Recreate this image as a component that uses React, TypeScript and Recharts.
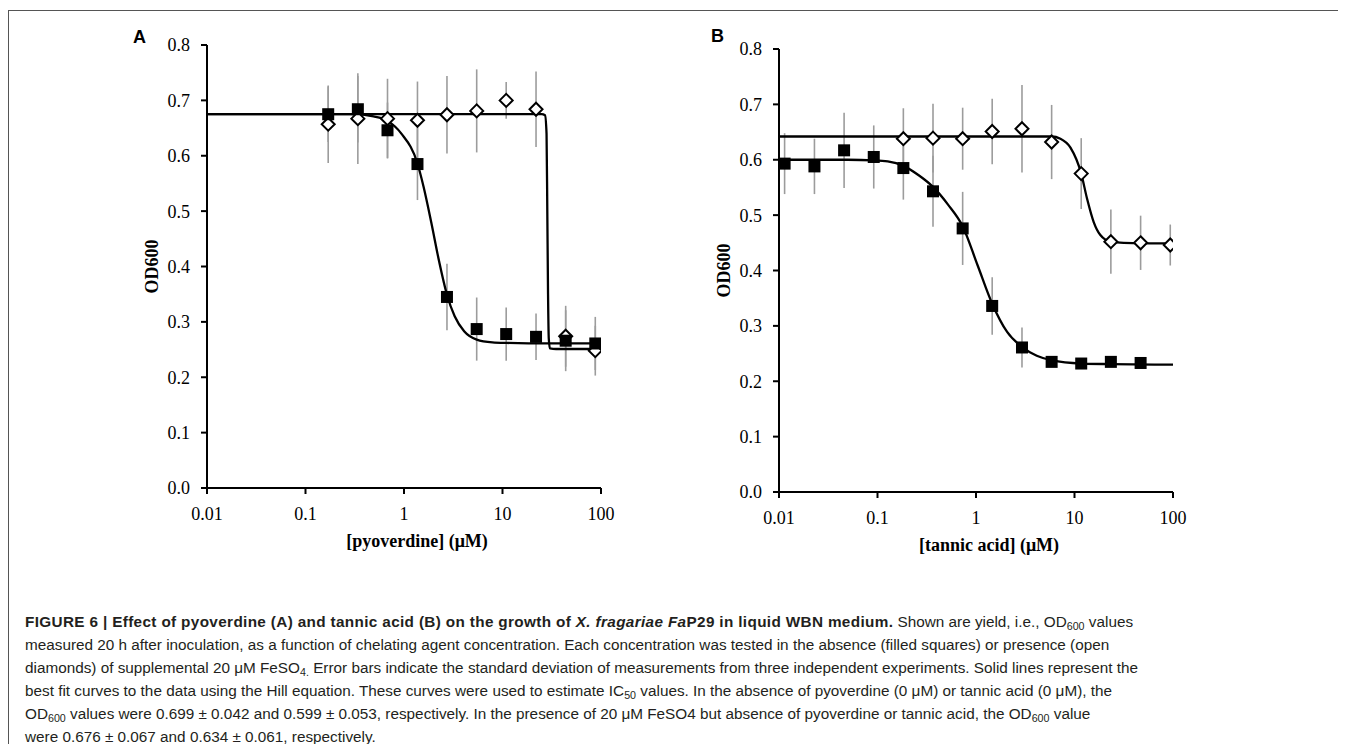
import React from "react";
import { ComposedChart, Scatter, Line, XAxis, YAxis, ErrorBar, Label } from "recharts";

// ---- Panel A: pyoverdine ----
const pyoConc = [0.17, 0.34, 0.68, 1.37, 2.73, 5.47, 10.9, 21.9, 43.8, 87.5];
const pyoNoFe = [0.675, 0.684, 0.646, 0.585, 0.345, 0.287, 0.278, 0.273, 0.266, 0.261];
const pyoNoFeSd = [0.05, 0.06, 0.05, 0.065, 0.06, 0.057, 0.048, 0.042, 0.055, 0.048];
const pyoFe = [0.657, 0.667, 0.667, 0.664, 0.674, 0.681, 0.7, 0.684, 0.274, 0.248];
const pyoFeSd = [0.07, 0.082, 0.072, 0.07, 0.07, 0.075, 0.033, 0.068, 0.055, 0.045];

// fitted curves
const pyoNoFeFitX = [0.01, 0.1, 0.3, 0.49, 0.68, 0.94, 1.37, 1.58, 1.89, 2.28, 2.73, 3.27, 4.08, 5.47, 7.9, 10.9, 30, 100];
const pyoNoFeFitY = [0.675, 0.675, 0.675, 0.671, 0.663, 0.64, 0.586, 0.544, 0.48, 0.408, 0.349, 0.31, 0.283, 0.268, 0.263, 0.262, 0.261, 0.261];
const pyoFeFitX = [0.01, 1, 10, 25, 27, 28, 28.5, 29, 29.5, 30.3, 35, 100];
const pyoFeFitY = [0.675, 0.675, 0.675, 0.675, 0.673, 0.64, 0.5, 0.35, 0.27, 0.252, 0.251, 0.251];

// ---- Panel B: tannic acid ----
const tanNoFeConc = [0.0114, 0.0229, 0.0458, 0.0916, 0.183, 0.366, 0.732, 1.46, 2.93, 5.86, 11.7, 23.4, 46.9];
const tanNoFe = [0.593, 0.588, 0.617, 0.605, 0.585, 0.543, 0.476, 0.336, 0.261, 0.235, 0.232, 0.235, 0.233];
const tanNoFeSd = [0.055, 0.05, 0.068, 0.057, 0.057, 0.064, 0.066, 0.052, 0.036, 0.008, 0.006, 0.006, 0.006];
const tanFeConc = [0.183, 0.366, 0.732, 1.46, 2.93, 5.86, 11.7, 23.4, 46.9, 93.8];
const tanFe = [0.638, 0.639, 0.638, 0.651, 0.656, 0.632, 0.575, 0.452, 0.45, 0.446];
const tanFeSd = [0.055, 0.062, 0.056, 0.059, 0.079, 0.067, 0.064, 0.058, 0.049, 0.037];

const tanNoFeFitX = [0.01, 0.05, 0.0916, 0.127, 0.183, 0.262, 0.366, 0.52, 0.732, 1.04, 1.46, 2.07, 2.93, 4.14, 5.86, 11.7, 23.4, 100];
const tanNoFeFitY = [0.6, 0.6, 0.599, 0.597, 0.589, 0.572, 0.551, 0.519, 0.48, 0.409, 0.34, 0.289, 0.262, 0.246, 0.238, 0.232, 0.231, 0.23];
const tanFeFitX = [0.01, 1, 5.86, 7.2, 9.1, 11.7, 13.4, 15.7, 18.3, 23.4, 31.5, 100];
const tanFeFitY = [0.642, 0.642, 0.642, 0.638, 0.622, 0.575, 0.53, 0.487, 0.464, 0.452, 0.45, 0.449];

const LOG_TICKS = [0.01, 0.1, 1, 10, 100];
const OD_TICKS = [0, 0.1, 0.2, 0.3, 0.4, 0.5, 0.6, 0.7, 0.8];

type Row = { x: number; y: number; sd: number };
const rows = (xs: number[], ys: number[], sds?: number[]): Row[] =>
  xs.map((x, i) => ({ x, y: ys[i], sd: sds ? sds[i] : 0 }));

const serif = "'Liberation Serif', 'Times New Roman', serif";
const sans = "'Liberation Sans', Arial, sans-serif";
const tickStyle = { fill: "#000", fontSize: 18, fontFamily: serif };
const titleStyle = { fill: "#000", fontSize: 18, fontFamily: serif, fontWeight: 700 };
const axisStroke = { stroke: "#000", strokeWidth: 2 };

const Square = (p: any) => <rect x={p.cx - 6} y={p.cy - 6} width={12} height={12} fill="#000" />;
const Diamond = (p: any) => (
  <path
    d={`M${p.cx},${p.cy - 6.5}L${p.cx + 6.5},${p.cy}L${p.cx},${p.cy + 6.5}L${p.cx - 6.5},${p.cy}Z`}
    fill="#fff"
    stroke="#000"
    strokeWidth={2}
  />
);
const Nothing = () => <g />;

interface PanelProps {
  xTitle: string;
  noFe: Row[];
  fe: Row[];
  noFeFit: Row[];
  feFit: Row[];
  left: number;
  top: number;
}

function Panel({ xTitle, noFe, fe, noFeFit, feFit, left, top }: PanelProps) {
  return (
    <div style={{ position: "absolute", left, top }}>
      <ComposedChart width={520} height={560} margin={{ top: 27, right: 27, left: 0, bottom: 0 }}>
        <XAxis
          type="number"
          dataKey="x"
          scale="log"
          domain={[0.01, 100]}
          ticks={LOG_TICKS}
          allowDataOverflow
          interval={0}
          height={90}
          tickSize={6}
          tickMargin={13}
          axisLine={axisStroke}
          tickLine={axisStroke}
          tick={tickStyle}
          tickFormatter={(v: number) => String(v)}
        >
          <Label value={xTitle} position="insideBottom" offset={31} dx={13} style={titleStyle} />
        </XAxis>
        <YAxis
          type="number"
          dataKey="y"
          domain={[0, 0.8]}
          ticks={OD_TICKS}
          interval={0}
          width={99}
          tickSize={6}
          tickMargin={11}
          axisLine={axisStroke}
          tickLine={axisStroke}
          tick={tickStyle}
          tickFormatter={(v: number) => v.toFixed(1)}
        >
          <Label
            value="OD600"
            angle={-90}
            position="insideLeft"
            offset={44}
            style={{ ...titleStyle, textAnchor: "middle" }}
          />
        </YAxis>
        <Scatter data={noFe} shape={Nothing} isAnimationActive={false}>
          <ErrorBar dataKey="sd" direction="y" width={0} stroke="#9c9c9c" strokeWidth={1.6} />
        </Scatter>
        <Scatter data={fe} shape={Nothing} isAnimationActive={false}>
          <ErrorBar dataKey="sd" direction="y" width={0} stroke="#9c9c9c" strokeWidth={1.6} />
        </Scatter>
        <Line data={noFeFit} dataKey="y" type="monotone" dot={false} stroke="#000" strokeWidth={2.3} isAnimationActive={false} />
        <Line data={feFit} dataKey="y" type="monotone" dot={false} stroke="#000" strokeWidth={2.3} isAnimationActive={false} />
        <Scatter data={fe} shape={Diamond} isAnimationActive={false} />
        <Scatter data={noFe} shape={Square} isAnimationActive={false} />
      </ComposedChart>
    </div>
  );
}

const capLine: React.CSSProperties = { whiteSpace: "nowrap", height: 23, lineHeight: "23px" };
const sub: React.CSSProperties = { fontSize: "0.7em", verticalAlign: "-0.25em", lineHeight: 0 };

export default function App() {
  return (
    <div
      style={{
        position: "relative",
        width: 1338,
        height: 744,
        marginBottom: -8,
        overflow: "hidden",
        background: "#fff",
      }}
    >
      <div
        style={{
          position: "absolute",
          left: 0,
          top: 2,
          width: 1400,
          height: 800,
          borderLeft: "1.5px solid #555",
          borderTop: "1.5px solid #555",
        }}
      />
      <div style={{ position: "absolute", left: 125, top: 19, fontFamily: sans, fontWeight: 700, fontSize: 18 }}>A</div>
      <div style={{ position: "absolute", left: 703, top: 18, fontFamily: sans, fontWeight: 700, fontSize: 18 }}>B</div>
      <Panel
        xTitle="[pyoverdine] (μM)"
        noFe={rows(pyoConc, pyoNoFe, pyoNoFeSd)}
        fe={rows(pyoConc, pyoFe, pyoFeSd)}
        noFeFit={rows(pyoNoFeFitX, pyoNoFeFitY)}
        feFit={rows(pyoFeFitX, pyoFeFitY)}
        left={100}
        top={10}
      />
      <Panel
        xTitle="[tannic acid] (μM)"
        noFe={rows(tanNoFeConc, tanNoFe, tanNoFeSd)}
        fe={rows(tanFeConc, tanFe, tanFeSd)}
        noFeFit={rows(tanNoFeFitX, tanNoFeFitY)}
        feFit={rows(tanFeFitX, tanFeFitY)}
        left={672}
        top={14}
      />
      <div
        style={{
          position: "absolute",
          left: 17,
          top: 601.5,
          fontFamily: sans,
          fontSize: 15.3,
          color: "#231f20",
        }}
      >
        <div style={capLine}>
          <b style={{ letterSpacing: 0.35 }}>
            FIGURE 6 | Effect of pyoverdine (A) and tannic acid (B) on the growth of <i>X. fragariae Fa</i>P29 in liquid
            WBN medium.
          </b>{" "}
          Shown are yield, i.e., OD<sub style={sub}>600</sub> values
        </div>
        <div style={capLine}>
          measured 20 h after inoculation, as a function of chelating agent concentration. Each concentration was tested
          in the absence (filled squares) or presence (open
        </div>
        <div style={capLine}>
          diamonds) of supplemental 20 μM FeSO<sub style={sub}>4.</sub> Error bars indicate the standard deviation of
          measurements from three independent experiments. Solid lines represent the
        </div>
        <div style={capLine}>
          best fit curves to the data using the Hill equation. These curves were used to estimate IC
          <sub style={sub}>50</sub> values. In the absence of pyoverdine (0 μM) or tannic acid (0 μM), the
        </div>
        <div style={capLine}>
          OD<sub style={sub}>600</sub> values were 0.699 ± 0.042 and 0.599 ± 0.053, respectively. In the presence of 20
          μM FeSO4 but absence of pyoverdine or tannic acid, the OD<sub style={sub}>600</sub> value
        </div>
        <div style={capLine}>were 0.676 ± 0.067 and 0.634 ± 0.061, respectively.</div>
      </div>
    </div>
  );
}
